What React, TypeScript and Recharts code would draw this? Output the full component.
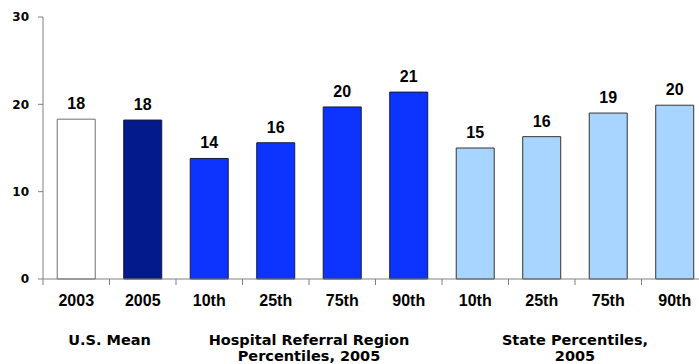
import { BarChart, Bar, XAxis, YAxis, Cell, LabelList } from 'recharts';

const categories = ['2003', '2005', '10th', '25th', '75th', '90th', '10th', '25th', '75th', '90th'];
const values = [18.3, 18.2, 13.8, 15.6, 19.7, 21.4, 15.0, 16.3, 19.0, 19.9];
const yTicks = [0, 10, 20, 30];
const groups = [
  { lines: ['U.S. Mean'], start: 0, count: 2 },
  { lines: ['Hospital Referral Region', 'Percentiles, 2005'], start: 2, count: 4 },
  { lines: ['State Percentiles,', '2005'], start: 6, count: 4 },
];

const barFills = ['#ffffff', '#021a8c', '#0c33ff', '#0c33ff', '#0c33ff', '#0c33ff', '#a8d5ff', '#a8d5ff', '#a8d5ff', '#a8d5ff'];
const barStrokes = ['#6e6e6e', '#1a1a3a', '#1a1a3a', '#1a1a3a', '#1a1a3a', '#1a1a3a', '#333333', '#333333', '#333333', '#333333'];

const data = categories.map((cat, i) => ({ key: `${cat}-${i}`, cat, value: values[i] }));

const CHART_W = 708;
const CHART_H = 364;
const Y_W = 43;
const PLOT_W = CHART_W - Y_W;
const STEP = PLOT_W / categories.length;

function CategoryTick(props: any) {
  const { x, y, index } = props;
  const left = x - STEP / 2;
  const group = groups.find((g) => g.start === index);
  return (
    <g>
      <line x1={left} x2={left} y1={y} y2={y + 6} stroke="#808080" />
      {index === categories.length - 1 && (
        <line x1={left + STEP} x2={left + STEP} y1={y} y2={y + 6} stroke="#808080" />
      )}
      <text
        x={x}
        y={y + 27}
        textAnchor="middle"
        fill="#000"
        style={{ fontFamily: '"Liberation Sans", Arial, sans-serif', fontWeight: 700, fontSize: 16 }}
      >
        {categories[index]}
      </text>
      {group && (
        <text
          x={x + ((group.count - 1) * STEP) / 2}
          y={y + 66}
          textAnchor="middle"
          fill="#000"
          style={{ fontFamily: '"DejaVu Sans", sans-serif', fontWeight: 700, fontSize: 14.5 }}
        >
          {group.lines.map((ln, k) => (
            <tspan key={k} x={x + ((group.count - 1) * STEP) / 2} dy={k === 0 ? 0 : 15.5}>
              {ln}
            </tspan>
          ))}
        </text>
      )}
    </g>
  );
}

export default function App() {
  return (
    <div
      style={{
        position: 'fixed',
        left: 0,
        top: 0,
        width: 699,
        height: 364,
        overflow: 'hidden',
        background: '#fff',
      }}
    >
      <BarChart
        width={CHART_W}
        height={CHART_H}
        data={data}
        margin={{ top: 17, right: 0, bottom: 0, left: 0 }}
        barCategoryGap="21.4%"
      >
        <XAxis
          dataKey="key"
          height={85}
          interval={0}
          tickLine={false}
          tickSize={0}
          tickMargin={0}
          axisLine={{ stroke: '#808080' }}
          tick={<CategoryTick />}
        />
        <YAxis
          width={Y_W}
          domain={[0, 30]}
          ticks={yTicks}
          interval={0}
          axisLine={{ stroke: '#808080' }}
          tickLine={{ stroke: '#808080' }}
          tickSize={5}
          tickMargin={9}
          tick={{ fill: '#000', fontFamily: '"DejaVu Sans", sans-serif', fontWeight: 700, fontSize: 12 }}
        />
        <Bar dataKey="value" isAnimationActive={false}>
          {data.map((d, i) => (
            <Cell key={d.key} fill={barFills[i]} stroke={barStrokes[i]} strokeWidth={1} />
          ))}
          <LabelList
            dataKey="value"
            position="top"
            offset={10}
            formatter={(v: any) => Math.round(Number(v))}
            style={{ fill: '#000', fontFamily: '"Liberation Sans", Arial, sans-serif', fontWeight: 700, fontSize: 16 }}
          />
        </Bar>
      </BarChart>
    </div>
  );
}
